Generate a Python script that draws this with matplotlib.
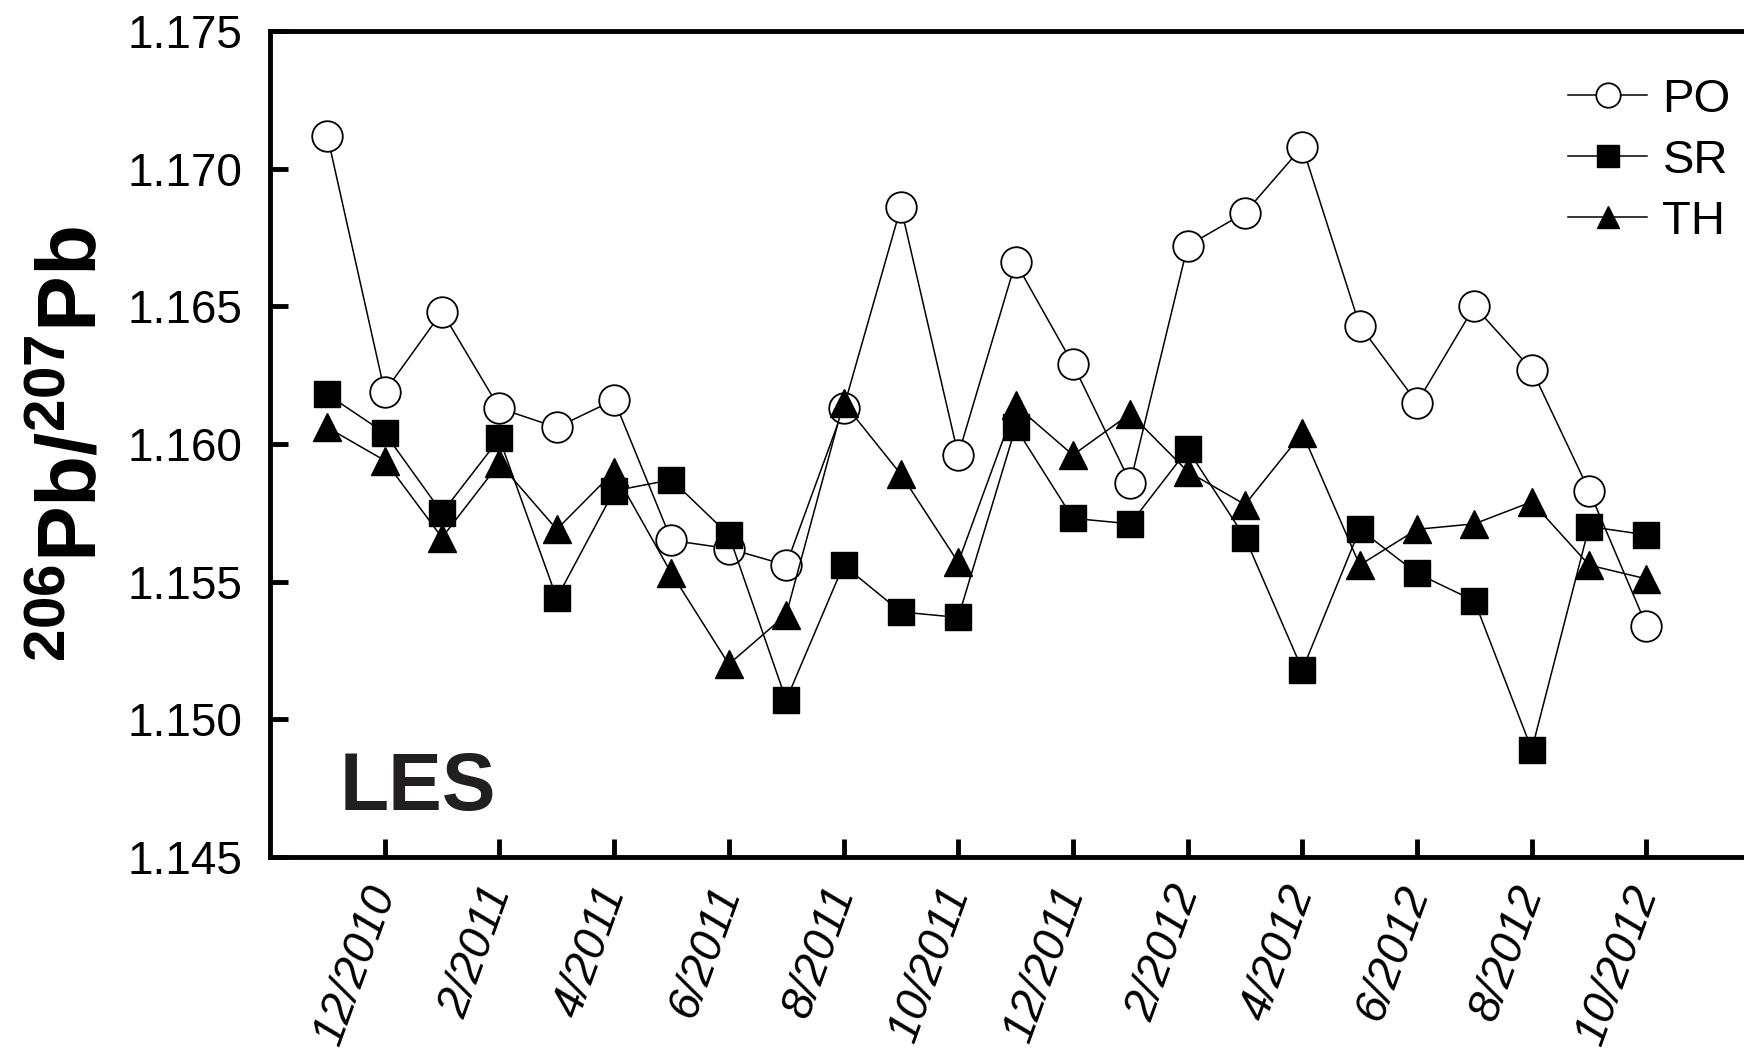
import numpy as np
import matplotlib
matplotlib.use("Agg")
import matplotlib.pyplot as plt

plt.rcParams["font.family"] = ["Liberation Sans", "DejaVu Sans"]
plt.rcParams["mathtext.fontset"] = "custom"
plt.rcParams["mathtext.rm"] = "Liberation Sans"
plt.rcParams["mathtext.bf"] = "Liberation Sans:bold"

# monthly samples, 11/2010 .. 10/2012
months = ["11/2010", "12/2010", "1/2011", "2/2011", "3/2011", "4/2011",
          "5/2011", "6/2011", "7/2011", "8/2011", "9/2011", "10/2011",
          "11/2011", "12/2011", "1/2012", "2/2012", "3/2012", "4/2012",
          "5/2012", "6/2012", "7/2012", "8/2012", "9/2012", "10/2012"]

po = [1.1712, 1.1619, 1.1648, 1.1613, 1.1606, 1.1616, 1.1565, 1.1562,
      1.1556, 1.1613, 1.1686, 1.1596, 1.1666, 1.1629, 1.1586, 1.1672,
      1.1684, 1.1708, 1.1643, 1.1615, 1.1650, 1.1627, 1.1583, 1.1534]
sr = [1.1618, 1.1604, 1.1575, 1.1602, 1.1544, 1.1583, 1.1587, 1.1567,
      1.1507, 1.1556, 1.1539, 1.1537, 1.1606, 1.1573, 1.1571, 1.1598,
      1.1566, 1.1518, 1.1569, 1.1553, 1.1543, 1.1489, 1.1570, 1.1567]
th = [1.1606, 1.1594, 1.1566, 1.1593, 1.1569, 1.1590, 1.1553, 1.1520,
      1.1538, 1.1615, 1.1589, 1.1557, 1.1614, 1.1596, 1.1611, 1.1590,
      1.1578, 1.1604, 1.1556, 1.1569, 1.1571, 1.1579, 1.1556, 1.1551]

x = np.arange(len(months))

fig = plt.figure(figsize=(17.44, 10.48), dpi=100)
ax = fig.add_axes([0.1548, 0.1823, 0.8452, 0.7881])

lw = 1.1
ax.plot(x, po, color="black", lw=lw, marker="o", ms=22, mfc="white",
        mec="black", mew=1.3, label="PO")
ax.plot(x, sr, color="black", lw=lw, marker="s", ms=19, mfc="black",
        mec="black", label="SR")
ax.plot(x, th, color="black", lw=lw, marker="^", ms=20, mfc="black",
        mec="black", label="TH")

ax.set_xlim(-1, 24.7)
ax.set_ylim(1.145, 1.175)
ax.set_yticks(np.arange(1.145, 1.1751, 0.005))
ax.set_yticklabels([f"{v:.3f}" for v in np.arange(1.145, 1.1751, 0.005)])

xt = x[1::2]
ax.set_xticks(xt)
ax.set_xticklabels([months[i] for i in xt], rotation=70, ha="right",
                   va="center", rotation_mode="anchor", style="italic")

ax.spines["right"].set_visible(False)
for s in ["left", "top", "bottom"]:
    ax.spines[s].set_linewidth(3.5)
ax.tick_params(direction="in", length=13, width=3.5, labelsize=33)
ax.tick_params(axis="y", pad=20)
ax.tick_params(axis="x", pad=22)
ax.tick_params(top=False, right=False)

ax.set_ylabel(r"$\mathbf{^{206}Pb/^{207}Pb}$", fontsize=60, labelpad=10)

ax.text(0.047, 0.057, "LES", transform=ax.transAxes, fontsize=58,
        fontweight="bold", color="#231f20", ha="left", va="baseline")

leg = ax.legend(loc="upper right", bbox_to_anchor=(1.007, 0.972), frameon=False,
                fontsize=34, handlelength=1.66, handletextpad=0.33,
                labelspacing=0.36, markerscale=0.8, borderaxespad=0.1)

fig.savefig("out.png", dpi=100)
